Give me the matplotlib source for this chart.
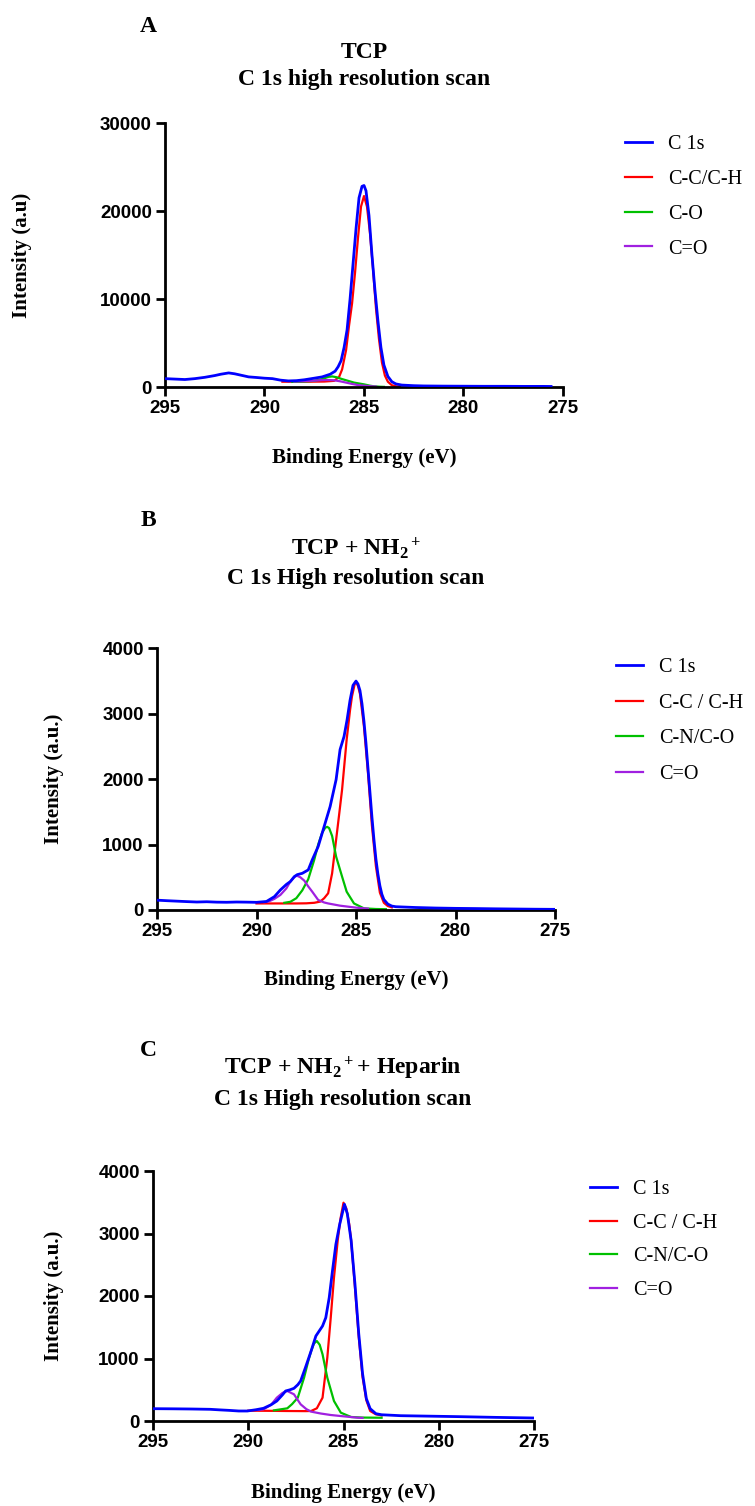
import matplotlib
matplotlib.use("Agg")
import matplotlib.pyplot as plt

plt.rcParams['mathtext.fontset'] = 'custom'
plt.rcParams['mathtext.rm'] = 'Liberation Serif:bold'
plt.rcParams['mathtext.it'] = 'Liberation Serif:bold'
plt.rcParams['mathtext.bf'] = 'Liberation Serif:bold'

# ---- panel A : TCP ----
a_c1s_x = [295.0, 294.5, 294.0, 293.5, 293.0, 292.5, 292.2, 291.8, 291.5, 291.2, 290.8, 290.4, 290.0,
           289.6, 289.2, 288.8, 288.4, 288.0, 287.5, 287.1, 286.7, 286.45, 286.3, 286.15, 286.0,
           285.85, 285.7, 285.55, 285.4, 285.25, 285.1, 285.0, 284.9, 284.75, 284.6, 284.45, 284.3,
           284.15, 284.0, 283.8, 283.6, 283.4, 283.1, 282.5, 282.0, 281.0, 280.0, 279.0, 278.0,
           277.0, 276.0, 275.6]
a_c1s_y = [950, 900, 850, 950, 1100, 1300, 1450, 1600, 1500, 1350, 1150, 1080, 1000,
           950, 780, 690, 720, 820, 1000, 1150, 1450, 1800, 2300, 3000, 4500,
           6500, 10000, 14000, 18000, 21500, 22800, 22900, 22300, 19500, 15000, 11000, 7500,
           4500, 2500, 1200, 600, 350, 220, 150, 120, 100, 90, 80, 80,
           70, 70, 60]
a_cc_x = [289.1, 288.0, 287.0, 286.5, 286.25, 286.1, 285.9, 285.75, 285.6, 285.45, 285.3, 285.15,
          285.0, 284.85, 284.7, 284.55, 284.4, 284.25, 284.1, 283.95, 283.8, 283.6, 283.4, 283.2]
a_cc_y = [600, 600, 620, 700, 1150, 2000, 4200, 7000, 9500, 13000, 17000, 20500,
          21700, 20500, 17500, 13500, 9000, 5500, 2800, 1300, 600, 200, 80, 50]
a_co_x = [288.6, 288.0, 287.5, 287.1, 286.8, 286.6, 286.4, 286.1, 285.8, 285.5, 285.2, 285.0,
          284.7, 284.5, 284.2, 284.0]
a_co_y = [580, 620, 700, 900, 1150, 1200, 1120, 900, 700, 500, 380, 300, 150, 80, 30, 15]
a_cdo_x = [288.5, 288.0, 287.5, 287.1, 286.8, 286.5, 286.2, 285.9, 285.6, 285.3, 285.0, 284.7, 284.4]
a_cdo_y = [620, 660, 720, 780, 800, 760, 650, 500, 350, 220, 150, 90, 50]

# ---- panel B : TCP + NH2+ ----
b_c1s_x = [295.0, 294.5, 294.0, 293.5, 293.0, 292.5, 292.0, 291.5, 291.0, 290.5, 290.0, 289.5,
           289.1, 288.8, 288.5, 288.3, 288.1, 287.95, 287.7, 287.4, 287.2, 286.9, 286.6, 286.3,
           286.0, 285.8, 285.6, 285.45, 285.3, 285.15, 285.0, 284.9, 284.8, 284.7, 284.6, 284.5,
           284.4, 284.3, 284.2, 284.1, 284.0, 283.9, 283.8, 283.7, 283.6, 283.4, 283.2, 283.0,
           282.0, 281.0, 280.0, 279.0, 278.0, 277.0, 276.0, 275.0]
b_c1s_y = [150, 142, 135, 128, 122, 126, 120, 118, 122, 120, 117, 130,
           204, 306, 390, 434, 510, 540, 560, 612, 765, 970, 1275, 1580,
           1990, 2450, 2650, 2900, 3200, 3430, 3495, 3450, 3350, 3150, 2880, 2550,
           2170, 1800, 1420, 1080, 780, 550, 370, 240, 160, 90, 60, 50,
           38, 30, 25, 22, 18, 15, 12, 10]
b_cc_x = [290.0, 289.0, 288.0, 287.5, 287.1, 286.8, 286.6, 286.4, 286.2, 286.0, 285.85, 285.7,
          285.47, 285.3, 285.2, 285.05, 285.0, 284.9, 284.8, 284.6, 284.4, 284.2, 284.0, 283.8,
          283.6, 283.4, 283.2]
b_cc_y = [100, 100, 100, 102, 110, 128, 180, 255, 561, 1071, 1450, 1837,
          2600, 3050, 3265, 3470, 3480, 3420, 3300, 2800, 2100, 1290, 670, 265,
          110, 60, 40]
b_cno_x = [288.6, 288.3, 288.0, 287.7, 287.4, 287.1, 286.9, 286.7, 286.55, 286.45, 286.35, 286.2,
           286.0, 285.7, 285.47, 285.1, 284.6, 284.0, 283.5]
b_cno_y = [110, 125, 180, 300, 470, 765, 1000, 1180, 1255, 1270, 1250, 1130,
           816, 510, 280, 100, 25, 15, 12]
b_cdo_x = [289.6, 289.4, 289.1, 288.8, 288.5, 288.3, 288.1, 287.98, 287.8, 287.6, 287.4, 287.2,
           286.9, 286.6, 286.4, 285.8, 285.0, 284.4]
b_cdo_y = [120, 128, 170, 230, 330, 434, 500, 525, 500, 449, 360, 280,
           153, 115, 100, 66, 36, 20]

# ---- panel C : TCP + NH2+ + Heparin ----
c_c1s_x = [295.0, 294.0, 293.0, 292.0, 291.5, 291.0, 290.5, 290.05, 289.6, 289.2, 288.8, 288.5,
           288.2, 288.04, 287.8, 287.6, 287.4, 287.25, 287.0, 286.7, 286.45, 286.1, 285.93, 285.75,
           285.58, 285.4, 285.2, 284.95, 284.8, 284.6, 284.4, 284.2, 284.0, 283.8, 283.6, 283.3,
           283.0, 282.0, 281.0, 280.0, 279.0, 278.0, 277.0, 276.0, 275.0]
c_c1s_y = [197, 195, 192, 187, 178, 170, 160, 160, 180, 203, 260, 320,
           420, 480, 500, 523, 580, 640, 853, 1120, 1360, 1520, 1653, 1973,
           2400, 2827, 3147, 3467, 3317, 2890, 2197, 1397, 757, 357, 197, 117,
           100, 85, 80, 75, 70, 64, 58, 53, 48]
c_cc_x = [290.0, 289.0, 288.0, 287.0, 286.7, 286.4, 286.1, 285.85, 285.67, 285.5, 285.3, 285.15,
          285.0, 284.85, 284.7, 284.6, 284.4, 284.2, 284.0, 283.8, 283.6, 283.3, 283.0]
c_cc_y = [165, 163, 160, 158, 160, 203, 373, 1013, 1653, 2293, 2900, 3250,
          3493, 3400, 3150, 2890, 2144, 1344, 704, 331, 160, 107, 90]
c_cno_x = [288.65, 287.95, 287.7, 287.4, 287.07, 286.85, 286.7, 286.55, 286.4, 286.25, 286.1,
           285.85, 285.5, 285.14, 284.6, 284.0, 283.0]
c_cno_y = [170, 203, 270, 373, 693, 960, 1120, 1240, 1280, 1220, 1067,
           693, 320, 133, 64, 55, 52]
c_cdo_x = [289.5, 289.2, 288.8, 288.5, 288.2, 287.95, 287.6, 287.25, 286.95, 286.7, 286.2,
           285.67, 285.0, 284.26, 284.0]
c_cdo_y = [175, 187, 260, 373, 450, 480, 427, 267, 190, 150, 120,
           96, 75, 53, 50]

x_ticks = [295, 290, 285, 280, 275]
BLUE, RED, GREEN, PURPLE = '#0000ff', '#ff0000', '#00c000', '#a020e0'

W, H = 755, 1506
fig = plt.figure(figsize=(W / 100, H / 100), dpi=100)


def px(x, y):
    return x / W, 1 - y / H


def panel(rect, series, labels, ymax, ystep, letter, title, ylabel,
          letter_xy, title_xy, ylabel_xy, xlabel_xy, legend_xy, spacing):
    l, t, r, b = rect
    ax = fig.add_axes([l / W, 1 - b / H, (r - l) / W, (b - t) / H])
    handles = []
    for (xs, ys, col, lw) in series:
        h, = ax.plot(xs, ys, color=col, lw=lw, solid_joinstyle='round')
        handles.append(h)
    # blue on top, legend order C 1s first
    handles[0].set_zorder(5)
    ax.set_xlim(295, 275)
    ax.set_ylim(0, ymax)
    ax.set_xticks(x_ticks)
    ax.set_yticks(range(0, ymax + 1, ystep))
    for s in ['top', 'right']:
        ax.spines[s].set_visible(False)
    for s in ['left', 'bottom']:
        ax.spines[s].set_linewidth(2.0)
    ax.tick_params(direction='out', length=6.5, width=2.0, pad=3)
    for lab in ax.get_xticklabels() + ax.get_yticklabels():
        lab.set_fontfamily('Liberation Sans')
        lab.set_fontweight('bold')
        lab.set_fontsize(13.5)
    ax.legend(handles, labels, loc='upper left', bbox_to_anchor=px(*legend_xy),
              bbox_transform=fig.transFigure, frameon=False, borderpad=0,
              borderaxespad=0, handlelength=1.35, handletextpad=0.8,
              labelspacing=spacing, prop={'family': 'Liberation Serif', 'size': 14.5})
    fig.text(*px(*letter_xy), letter, ha='center', va='center',
             family='Liberation Serif', weight='bold', fontsize=17)
    fig.text(*px(*title_xy), title, ha='center', va='center', linespacing=1.4,
             family='Liberation Serif', weight='bold', fontsize=17)
    fig.text(*px(*ylabel_xy), ylabel, ha='center', va='center', rotation=90,
             family='Liberation Serif', weight='bold', fontsize=15)
    fig.text(*px(*xlabel_xy), 'Binding Energy (eV)', ha='center', va='center',
             family='Liberation Serif', weight='bold', fontsize=15)
    return ax


panel((165, 123, 563, 387),
      [(a_c1s_x, a_c1s_y, BLUE, 2.0), (a_cc_x, a_cc_y, RED, 1.6),
       (a_co_x, a_co_y, GREEN, 1.6), (a_cdo_x, a_cdo_y, PURPLE, 1.6)],
      ['C 1s', 'C-C/C-H', 'C-O', 'C=O'], 30000, 10000, 'A',
      'TCP\nC 1s high resolution scan', 'Intensity (a.u)',
      (148, 27), (364, 66), (22, 255), (364, 458), (625, 135), 0.78)

panel((157, 648, 555, 910),
      [(b_c1s_x, b_c1s_y, BLUE, 2.0), (b_cc_x, b_cc_y, RED, 1.6),
       (b_cno_x, b_cno_y, GREEN, 1.6), (b_cdo_x, b_cdo_y, PURPLE, 1.6)],
      ['C 1s', 'C-C / C-H', 'C-N/C-O', 'C=O'], 4000, 1000, 'B',
      'TCP + NH$_2$$^+$\nC 1s High resolution scan', 'Intensity (a.u.)',
      (148, 520), (356, 562), (54, 779), (356, 980), (616, 658), 0.82)

panel((153, 1171, 534, 1421),
      [(c_c1s_x, c_c1s_y, BLUE, 2.0), (c_cc_x, c_cc_y, RED, 1.6),
       (c_cno_x, c_cno_y, GREEN, 1.6), (c_cdo_x, c_cdo_y, PURPLE, 1.6)],
      ['C 1s', 'C-C / C-H', 'C-N/C-O', 'C=O'], 4000, 1000, 'C',
      'TCP + NH$_2$$^+$+ Heparin\nC 1s High resolution scan', 'Intensity (a.u.)',
      (148, 1050), (343, 1082), (54, 1296), (343, 1493), (590, 1180), 0.72)

fig.savefig('out.png', dpi=100, facecolor='white')
